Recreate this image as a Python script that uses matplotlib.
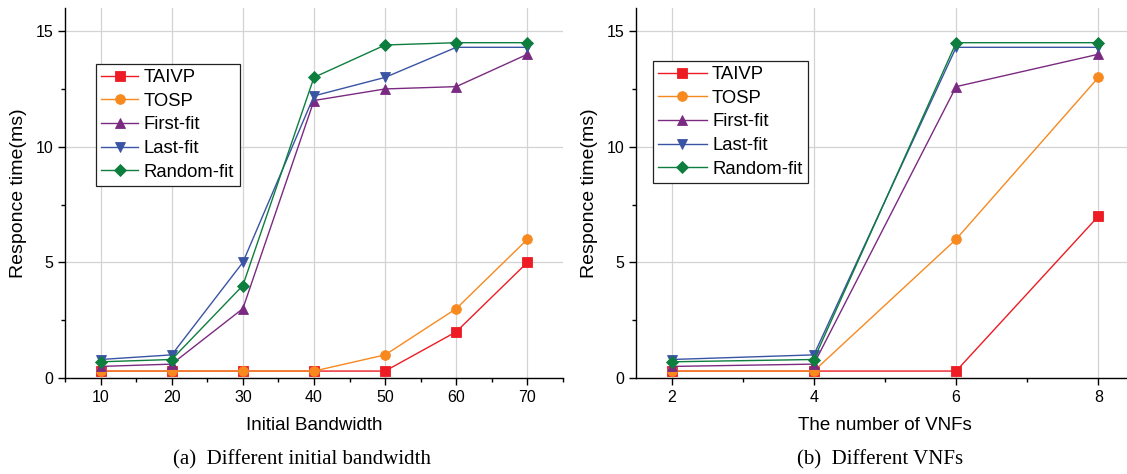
import matplotlib
matplotlib.use("Agg")
import matplotlib.pyplot as plt
from matplotlib.ticker import MultipleLocator

plt.rcParams['font.family'] = ['Liberation Sans', 'DejaVu Sans']

# ---- data ----
series_names = ["TAIVP", "TOSP", "First-fit", "Last-fit", "Random-fit"]
colors = ["#ED1C24", "#F7891F", "#7B2A81", "#3A54A4", "#0D7E3E"]
markers = ["s", "o", "^", "v", "D"]

bandwidth = [10, 20, 30, 40, 50, 60, 70]
bw_taivp = [0.3, 0.3, 0.3, 0.3, 0.3, 2.0, 5.0]
bw_tosp = [0.3, 0.3, 0.3, 0.3, 1.0, 3.0, 6.0]
bw_first = [0.5, 0.6, 3.0, 12.0, 12.5, 12.6, 14.0]
bw_last = [0.8, 1.0, 5.0, 12.2, 13.0, 14.3, 14.3]
bw_random = [0.7, 0.8, 4.0, 13.0, 14.4, 14.5, 14.5]

vnfs = [2, 4, 6, 8]
vnf_taivp = [0.3, 0.3, 0.3, 7.0]
vnf_tosp = [0.3, 0.3, 6.0, 13.0]
vnf_first = [0.5, 0.6, 12.6, 14.0]
vnf_last = [0.8, 1.0, 14.3, 14.3]
vnf_random = [0.7, 0.8, 14.5, 14.5]

W, H = 1127, 474
fig = plt.figure(figsize=(W / 100, H / 100), dpi=100)

ax1 = fig.add_axes([65 / W, (H - 378) / H, (563 - 65) / W, 370 / H])
ax2 = fig.add_axes([636 / W, (H - 378) / H, (1134 - 636) / W, 370 / H])


def style(ax, xs, ys_list, xlim, xmajor, xminor, xlabel, legend_anchor,
          handlelength):
    for name, ys, c, m in zip(series_names, ys_list, colors, markers):
        ms = 7 if m != 'D' else 6.5
        ax.plot(xs, ys, color=c, marker=m, markersize=ms, lw=1.0,
                markeredgewidth=0.6, label=name)
    ax.set_xlim(*xlim)
    ax.set_ylim(0, 16)
    ax.xaxis.set_major_locator(MultipleLocator(xmajor))
    ax.xaxis.set_minor_locator(MultipleLocator(xminor))
    ax.yaxis.set_major_locator(MultipleLocator(5))
    ax.yaxis.set_minor_locator(MultipleLocator(2.5))
    ax.spines['top'].set_visible(False)
    ax.spines['right'].set_visible(False)
    for s in ('left', 'bottom'):
        ax.spines[s].set_linewidth(1.0)
        ax.spines[s].set_color('black')
    ax.grid(True, which='major', color='#d3d3d3', lw=0.9)
    ax.set_axisbelow(True)
    ax.tick_params(which='major', direction='out', length=5, width=1.0,
                   labelsize=11.5)
    ax.tick_params(which='minor', direction='out', length=3, width=1.0)
    ax.set_xlabel(xlabel, fontsize=13.5, labelpad=9)
    ax.set_ylabel("Responce time(ms)", fontsize=14, labelpad=6)
    leg = ax.legend(loc='upper left', bbox_to_anchor=legend_anchor,
                    borderaxespad=0, fontsize=13.3, labelspacing=0.36,
                    handlelength=handlelength, handletextpad=0.3,
                    borderpad=0.3, fancybox=False, framealpha=1,
                    edgecolor='#222222')
    leg.get_frame().set_linewidth(0.9)


style(ax1, bandwidth, [bw_taivp, bw_tosp, bw_first, bw_last, bw_random],
      (5, 75), 10, 5, "Initial Bandwidth", (0.062, 0.85), 2.0)
style(ax2, vnfs, [vnf_taivp, vnf_tosp, vnf_first, vnf_last, vnf_random],
      (1.5, 8.5), 2, 1, "The number of VNFs", (0.034, 0.858), 2.6)

fig.text(302 / W, 1 - 460 / H, "(a)  Different initial bandwidth",
         ha='center', va='center', fontsize=15,
         family=['Liberation Serif', 'DejaVu Serif'])
fig.text(880 / W, 1 - 460 / H, "(b)  Different VNFs",
         ha='center', va='center', fontsize=15,
         family=['Liberation Serif', 'DejaVu Serif'])

fig.savefig("out.png", dpi=100)
